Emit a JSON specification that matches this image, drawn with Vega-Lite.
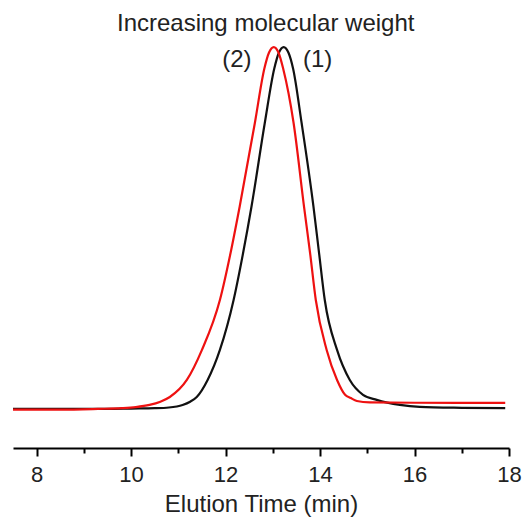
{
  "$schema": "https://vega.github.io/schema/vega-lite/v6.json",
  "width": 496,
  "height": 448,
  "autosize": "none",
  "padding": {"left": 13, "top": 0, "right": 17, "bottom": 71},
  "config": {"view": {"stroke": null}, "font": "Liberation Sans"},
  "datasets": {
    "s1": [
      {"t": 7.5, "v": 0.0}, {"t": 8.5, "v": 0.0}, {"t": 9.5, "v": 0.0}, {"t": 10.0, "v": 0.001},
      {"t": 10.5, "v": 0.002}, {"t": 10.8, "v": 0.004}, {"t": 11.09, "v": 0.011}, {"t": 11.25, "v": 0.02},
      {"t": 11.39, "v": 0.033}, {"t": 11.62, "v": 0.08}, {"t": 11.88, "v": 0.163}, {"t": 12.17, "v": 0.301},
      {"t": 12.37, "v": 0.43}, {"t": 12.55, "v": 0.56}, {"t": 12.83, "v": 0.79}, {"t": 13.03, "v": 0.94},
      {"t": 13.13, "v": 0.985}, {"t": 13.23, "v": 1.0}, {"t": 13.33, "v": 0.985}, {"t": 13.43, "v": 0.94},
      {"t": 13.61, "v": 0.79}, {"t": 13.86, "v": 0.56}, {"t": 13.98, "v": 0.43}, {"t": 14.1, "v": 0.301},
      {"t": 14.36, "v": 0.163}, {"t": 14.63, "v": 0.08}, {"t": 14.91, "v": 0.039}, {"t": 15.2, "v": 0.025},
      {"t": 15.69, "v": 0.011}, {"t": 16.11, "v": 0.0055}, {"t": 17.0, "v": 0.003}, {"t": 17.92, "v": 0.002}
    ],
    "s2": [
      {"t": 7.5, "v": -0.002}, {"t": 8.5, "v": -0.002}, {"t": 9.3, "v": 0.0}, {"t": 9.8, "v": 0.002},
      {"t": 10.1, "v": 0.005}, {"t": 10.39, "v": 0.011}, {"t": 10.62, "v": 0.02}, {"t": 10.82, "v": 0.033},
      {"t": 11.18, "v": 0.08}, {"t": 11.5, "v": 0.163}, {"t": 11.88, "v": 0.301}, {"t": 12.12, "v": 0.44},
      {"t": 12.3, "v": 0.56}, {"t": 12.62, "v": 0.79}, {"t": 12.82, "v": 0.94}, {"t": 12.92, "v": 0.985},
      {"t": 13.02, "v": 1.0}, {"t": 13.12, "v": 0.985}, {"t": 13.22, "v": 0.94}, {"t": 13.44, "v": 0.79},
      {"t": 13.66, "v": 0.56}, {"t": 13.79, "v": 0.43}, {"t": 13.91, "v": 0.301}, {"t": 14.14, "v": 0.163},
      {"t": 14.36, "v": 0.08}, {"t": 14.53, "v": 0.039}, {"t": 14.65, "v": 0.03}, {"t": 14.78, "v": 0.022},
      {"t": 15.05, "v": 0.018}, {"t": 16.0, "v": 0.017}, {"t": 17.92, "v": 0.0166}
    ],
    "labels": [
      {"t": 12.85, "v": 1.063, "label": "Increasing molecular weight"},
      {"t": 12.24, "v": 0.964, "label": "(2)"},
      {"t": 13.95, "v": 0.964, "label": "(1)"}
    ]
  },
  "layer": [
    {
      "data": {"name": "s1"},
      "mark": {"type": "line", "color": "#111111", "strokeWidth": 2.2, "interpolate": "monotone"},
      "encoding": {
        "x": {
          "field": "t", "type": "quantitative",
          "scale": {"domain": [7.5, 18], "nice": false, "zero": false},
          "axis": {
            "values": [8, 9, 10, 11, 12, 13, 14, 15, 16, 17, 18],
            "labelExpr": "datum.value % 2 == 0 ? datum.label : ''",
            "tickSize": {"condition": {"test": "datum.value % 2 == 1", "value": 5}, "value": 8},
            "tickWidth": 2, "domainWidth": 2, "domainColor": "#000000", "tickColor": "#000000",
            "labelFontSize": 22, "labelColor": "#222222", "labelPadding": 8, "labelOverlap": false, "labelFlush": false,
            "title": "Elution Time (min)", "titleFontSize": 24, "titleFontWeight": "normal", "titleColor": "#222222",
            "titlePadding": 7, "grid": false
          }
        },
        "y": {
          "field": "v", "type": "quantitative",
          "scale": {"domain": [-0.108, 1.13], "nice": false, "zero": false},
          "axis": null
        }
      }
    },
    {
      "data": {"name": "s2"},
      "mark": {"type": "line", "color": "#ee1111", "strokeWidth": 2.2, "interpolate": "monotone"},
      "encoding": {
        "x": {"field": "t", "type": "quantitative"},
        "y": {"field": "v", "type": "quantitative"}
      }
    },
    {
      "data": {"name": "labels"},
      "mark": {"type": "text", "fontSize": 24, "color": "#222222", "baseline": "middle", "align": "center"},
      "encoding": {
        "x": {"field": "t", "type": "quantitative"},
        "y": {"field": "v", "type": "quantitative"},
        "text": {"field": "label"}
      }
    }
  ]
}
